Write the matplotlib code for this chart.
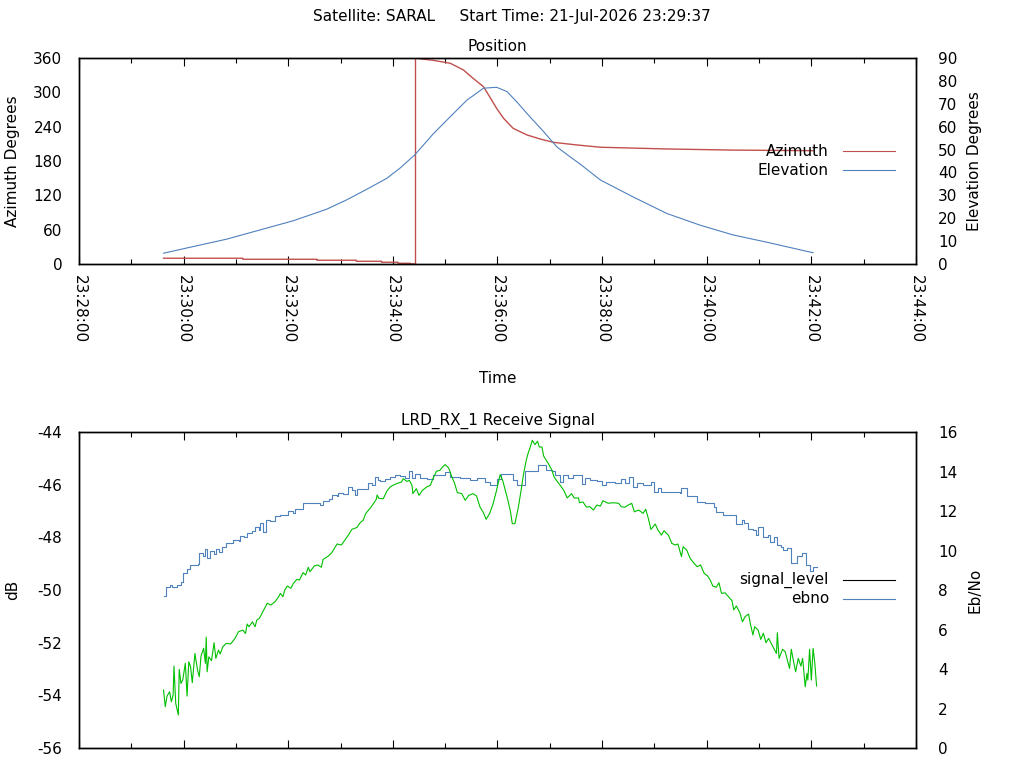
import numpy as np
import pandas as pd
import matplotlib
matplotlib.use('Agg')
import matplotlib.pyplot as plt
import matplotlib.dates as mdates

# pass data, times are seconds after 23:28:00
t0 = pd.Timestamp('2026-07-21 23:28:00')

az_sec = [97, 188, 188, 273, 273, 318, 318, 347, 347, 366, 366, 380, 380, 386, 386,
          393, 406, 426, 441, 452, 464, 471, 479, 487, 498, 514, 529, 544, 571, 598,
          674, 750, 842]
az_deg = [10, 10, 8.2, 8.2, 6.5, 6.5, 4.7, 4.7, 3.0, 3.0, 1.2, 1.2, 0.3, 0.0, 360,
          358.3, 356, 350.7, 339, 324.5, 309.8, 292.4, 272, 254.6, 237, 225.4, 218.4,
          212.6, 208, 204, 201, 199, 198]

el_sec = [97, 131, 169, 208, 246, 284, 307, 330, 353, 368, 385, 406, 426, 445, 464,
          479, 491, 502, 517, 533, 548, 563, 575, 598, 635, 674, 712, 750, 789, 842]
el_deg = [4.7, 7.6, 10.8, 14.9, 18.9, 23.9, 28.0, 32.6, 37.4, 41.8, 47.6, 56.7, 64.4,
          71.6, 76.8, 77.2, 75.3, 70.9, 64.4, 57.8, 51.2, 46.9, 43.6, 36.7, 29.4, 22.1,
          17, 12.7, 9.5, 4.9]

sig_sec = [97, 100, 104, 107, 112, 117, 119, 124, 127, 137, 138, 142, 144, 147, 150,
           155, 157, 161, 164, 169, 177, 183, 185, 189, 193, 199, 202, 206, 208, 211,
           215, 219, 225, 231, 236, 240, 245, 248, 255, 257, 271, 276, 280, 287, 290,
           296, 297, 303, 309, 313, 317, 319, 327, 332, 336, 340, 343,
           345, 351, 357, 362, 368, 374, 379, 382, 385, 391, 399, 406, 414, 420, 426,
           437, 448, 456, 466, 472, 479, 484, 492, 498, 502, 508, 512, 523, 527, 535,
           536, 542, 546, 552, 555, 561, 567, 573, 577, 580,
           586, 594, 600, 605, 615, 622, 626, 631, 635, 640, 647, 656, 660, 664, 668,
           680, 689, 691, 697, 707, 709, 718, 728, 731, 739, 750, 754, 760, 763, 767,
           773, 777, 779, 784, 790, 793, 797, 801, 805, 808, 812, 817, 823, 829, 834,
           839, 842, 846]
signal_level = [-50.23, -49.9, -49.8, -49.9, -49.82, -49.7, -49.34, -49.2, -49.04, -49.03,
                -48.58, -48.71, -48.46, -48.79, -48.5, -48.63, -48.46, -48.55, -48.36, -48.2,
                -48.1, -48.15, -47.95, -48.0, -47.85, -47.77, -47.62, -47.72, -47.47, -47.79,
                -47.34, -47.37, -47.19, -47.16, -47.14, -47.01, -47.09, -46.94, -46.94, -46.71,
                -46.68, -46.77, -46.63, -46.56, -46.4, -46.43, -46.33, -46.35, -46.1, -46.2,
                -46.38, -46.18, -46.15, -45.95, -46.0, -45.72, -45.82,
                -45.87, -45.77, -45.71, -45.62, -45.67, -45.75, -45.49, -45.75, -45.58, -45.75,
                -45.77, -45.64, -45.62, -45.52, -45.71, -45.75, -45.83, -45.75, -45.9, -46.0,
                -45.77, -45.58, -45.58, -45.83, -46.0, -46.03, -45.49, -45.49, -45.24, -45.24,
                -45.45, -45.49, -45.64, -45.9, -45.64, -45.75, -45.64, -45.64, -45.96, -45.75,
                -45.82, -45.85, -46.01, -45.89, -45.92, -45.8, -45.95, -45.72, -46.08, -45.92,
                -46.01, -45.89, -46.27, -46.14, -46.27, -46.27, -46.3, -46.14, -46.43, -46.43,
                -46.65, -46.71, -46.84, -47.03, -47.15, -47.15, -47.49, -47.34, -47.44, -47.7,
                -47.72, -47.91, -47.62, -48.0, -47.91, -48.17, -48.0, -48.29, -48.36, -48.48,
                -48.42, -48.99, -48.71, -48.61, -49.05, -49.27, -49.12, -49.12]

ebno_sec = [97, 99, 101, 104, 106, 108, 109, 111, 114, 115, 117, 119, 122, 124, 126,
            128, 130, 133, 136, 138, 140, 143, 145, 146, 147, 149, 152, 155, 157, 160,
            162, 165, 169, 174, 179, 183, 188, 191, 193, 195, 199, 202, 204, 207, 210,
            214, 216, 220, 225, 229, 231, 234, 236, 239, 243, 246, 250, 253, 257, 260,
            263, 265, 270, 274, 278, 280, 286, 290, 294, 296, 301, 305, 309, 313, 319,
            322, 326, 329, 334, 338, 341, 342, 344,
            349, 353, 357, 360, 364, 370, 372, 376, 379, 382, 383, 387, 390, 394, 399,
            403, 406, 410, 414, 417, 420, 424, 427, 431, 434, 439, 443, 447, 452, 456,
            460, 464, 467, 471, 475, 479, 483, 486, 489, 492, 495, 497, 500, 504, 508,
            510, 513, 515, 518, 520, 523, 526, 528, 531, 533, 536, 539, 542, 545, 549,
            552, 556, 560, 565, 568, 573, 574, 578, 582,
            586, 590, 594, 598, 601, 607, 613, 619, 622, 626, 630, 634, 637, 642, 647,
            650, 653, 656, 661, 664, 668, 671, 676, 680, 684, 687, 691, 693, 697, 701,
            705, 709, 713, 717, 721, 724, 727, 731, 734, 737, 741, 745, 749, 751, 754,
            758, 761, 764, 768, 770, 773, 775, 779, 782, 785, 788, 791, 793, 796, 800,
            801, 803, 807, 810, 812, 815, 817, 820, 822, 825, 828, 830, 833, 835, 836,
            838, 840, 842, 844, 846]
ebno = [2.94, 2.09, 2.63, 2.85, 2.34, 2.68, 4.15, 2.26, 1.67, 3.98,
        3.27, 3.44, 4.29, 2.63, 4.37, 4.12, 3.31, 4.79, 3.95, 3.61,
        4.66, 5.05, 4.29, 5.61, 3.86, 4.62, 4.42, 5.33, 4.54, 4.96,
        4.76, 5.13, 5.3, 5.27, 5.55, 5.89, 5.97, 5.8, 6.28, 6.14,
        6.39, 6.14, 6.48, 6.57, 6.82, 7.16, 7.33, 7.24, 7.41, 7.66,
        7.83, 7.66, 8.0, 8.2, 8.09, 8.34, 8.54, 8.51, 8.88, 8.76,
        9.15, 8.93, 9.22, 9.27, 9.15, 9.55, 9.72, 9.89, 10.19, 10.33,
        10.28, 10.53, 10.78, 11.07, 11.17, 11.38, 11.54, 11.88, 12.14, 12.39,
        12.59, 12.81, 12.64,
        12.62, 13.0, 13.22, 13.3, 13.38, 13.47, 13.64, 13.5, 13.55, 13.3,
        12.88, 13.13, 12.79, 13.05, 13.22, 13.3, 13.64, 14.01, 14.06, 14.23,
        14.35, 14.18, 13.81, 13.38, 12.93, 12.88, 12.54, 12.79, 12.88, 12.76,
        12.2, 11.91, 11.58, 11.87, 12.37, 13.05, 13.84, 13.55, 13.05, 12.54,
        11.95, 11.36, 11.36, 12.2, 13.3, 13.89, 14.57, 14.9, 15.29, 15.58,
        15.36, 15.53, 15.24, 15.24, 14.78, 14.57, 14.35, 14.11, 13.72, 13.47,
        13.3, 13.05, 12.66, 12.88, 12.66, 12.66, 12.42, 12.46, 12.2,
        12.22, 12.05, 12.3, 12.25, 12.52, 12.39, 12.42, 12.39, 12.22, 12.19,
        12.3, 12.39, 11.96, 12.05, 11.88, 12.09, 11.63, 11.07, 11.34, 11.04,
        10.78, 11.0, 10.78, 10.36, 10.28, 10.33, 9.69, 10.19, 10.03, 9.6,
        9.38, 9.18, 9.27, 8.85, 8.71, 8.51, 8.2, 8.14, 8.37, 7.83,
        7.86, 7.66, 7.46, 6.99, 7.19, 6.85, 6.39, 6.65, 6.78, 6.31,
        5.72, 6.14, 5.97, 5.5, 5.81, 5.33, 5.55, 5.38, 5.13, 4.79,
        5.84, 4.54, 5.0, 4.88, 4.54, 4.03, 5.0, 4.29, 3.86, 4.54,
        4.15, 4.54, 3.1, 3.78, 3.44, 5.0, 3.44, 5.05, 4.29, 3.14]

RED = '#c0504d'
BLUE = '#4f81bd'
GREEN = '#00c000'

def to_time(sec):
    return t0 + pd.to_timedelta(sec, unit='s')

plt.rcParams['font.family'] = 'DejaVu Sans'
plt.rcParams['font.size'] = 11
plt.rcParams['axes.linewidth'] = 1.0
plt.rcParams['axes.unicode_minus'] = False

fig = plt.figure(figsize=(10.24, 7.68), dpi=100)
ax1 = fig.add_axes([0.0771, 0.6563, 0.8174, 0.2682])
ax1r = ax1.twinx()
ax2 = fig.add_axes([0.0771, 0.026, 0.8174, 0.4115])
ax2r = ax2.twinx()

x_lo = t0
x_hi = t0 + pd.Timedelta(minutes=16)

# top: position
ax1.plot(to_time(az_sec), az_deg, color=RED, lw=1.0)
ax1r.plot(to_time(el_sec), el_deg, color=BLUE, lw=0.8)
ax1.set_ylim(0, 360)
ax1.set_yticks(range(0, 361, 60))
ax1r.set_ylim(0, 90)
ax1r.set_yticks(range(0, 91, 10))
ax1.set_title('Position', fontsize=11, pad=5)
ax1.set_ylabel('Azimuth Degrees', va='center')
ax1.yaxis.set_label_coords(-0.079, 0.5)
ax1r.set_ylabel('Elevation Degrees', va='center')
ax1r.yaxis.set_label_coords(1.0705, 0.5)
ax1.set_xlabel('Time', va='center')
ax1.xaxis.set_label_coords(0.5, -0.558)

# bottom: receive signal
ax2.plot(to_time(sig_sec), signal_level, color=BLUE, lw=0.8, drawstyle='steps-post')
ax2r.plot(to_time(ebno_sec), ebno, color=GREEN, lw=0.8)
ax2.set_ylim(-56, -44)
ax2.set_yticks(range(-56, -43, 2))
ax2r.set_ylim(0, 16)
ax2r.set_yticks(range(0, 17, 2))
ax2.set_title('LRD_RX_1 Receive Signal', fontsize=11, pad=5)
ax2.set_ylabel('dB', va='center')
ax2.yaxis.set_label_coords(-0.079, 0.5)
ax2r.set_ylabel('Eb/No', va='center')
ax2r.yaxis.set_label_coords(1.0705, 0.5)

for ax in (ax1, ax2):
    ax.set_xlim(x_lo, x_hi)
    ax.xaxis.set_major_locator(mdates.MinuteLocator(byminute=range(0, 60, 2)))
    ax.xaxis.set_minor_locator(mdates.MinuteLocator())
    ax.xaxis.set_major_formatter(mdates.DateFormatter('%H:%M:%S'))
    ax.tick_params(axis='x', which='major', direction='in', length=5.5, width=0.8,
                   top=True, pad=8)
    ax.tick_params(axis='x', which='minor', direction='in', length=3.5, width=0.8,
                   top=True)
    ax.tick_params(axis='y', length=0, pad=12)
for ax in (ax1r, ax2r):
    ax.tick_params(axis='y', length=0, pad=16)

for lab in ax1.get_xticklabels():
    lab.set_rotation(-90)
    lab.set_ha('center')
    lab.set_va('top')
ax2.tick_params(axis='x', which='both', labelbottom=False)

# key, text left of the sample like gnuplot
def key_entry(ax, y, label, color):
    ax.plot([0.9128, 0.975], [y, y], color=color, lw=0.8, transform=ax.transAxes,
            clip_on=False)
    ax.text(0.896, y, label, transform=ax.transAxes, ha='right', va='center')

key_entry(ax1, 0.547, 'Azimuth', RED)
key_entry(ax1, 0.455, 'Elevation', BLUE)
key_entry(ax2, 0.532, 'signal_level', 'black')
key_entry(ax2, 0.472, 'ebno', BLUE)

fig.text(0.5, 1 - 17 / 768, 'Satellite: SARAL     Start Time: 21-Jul-2026 23:29:37',
         ha='center', va='center')

fig.savefig('out.png', dpi=100)
